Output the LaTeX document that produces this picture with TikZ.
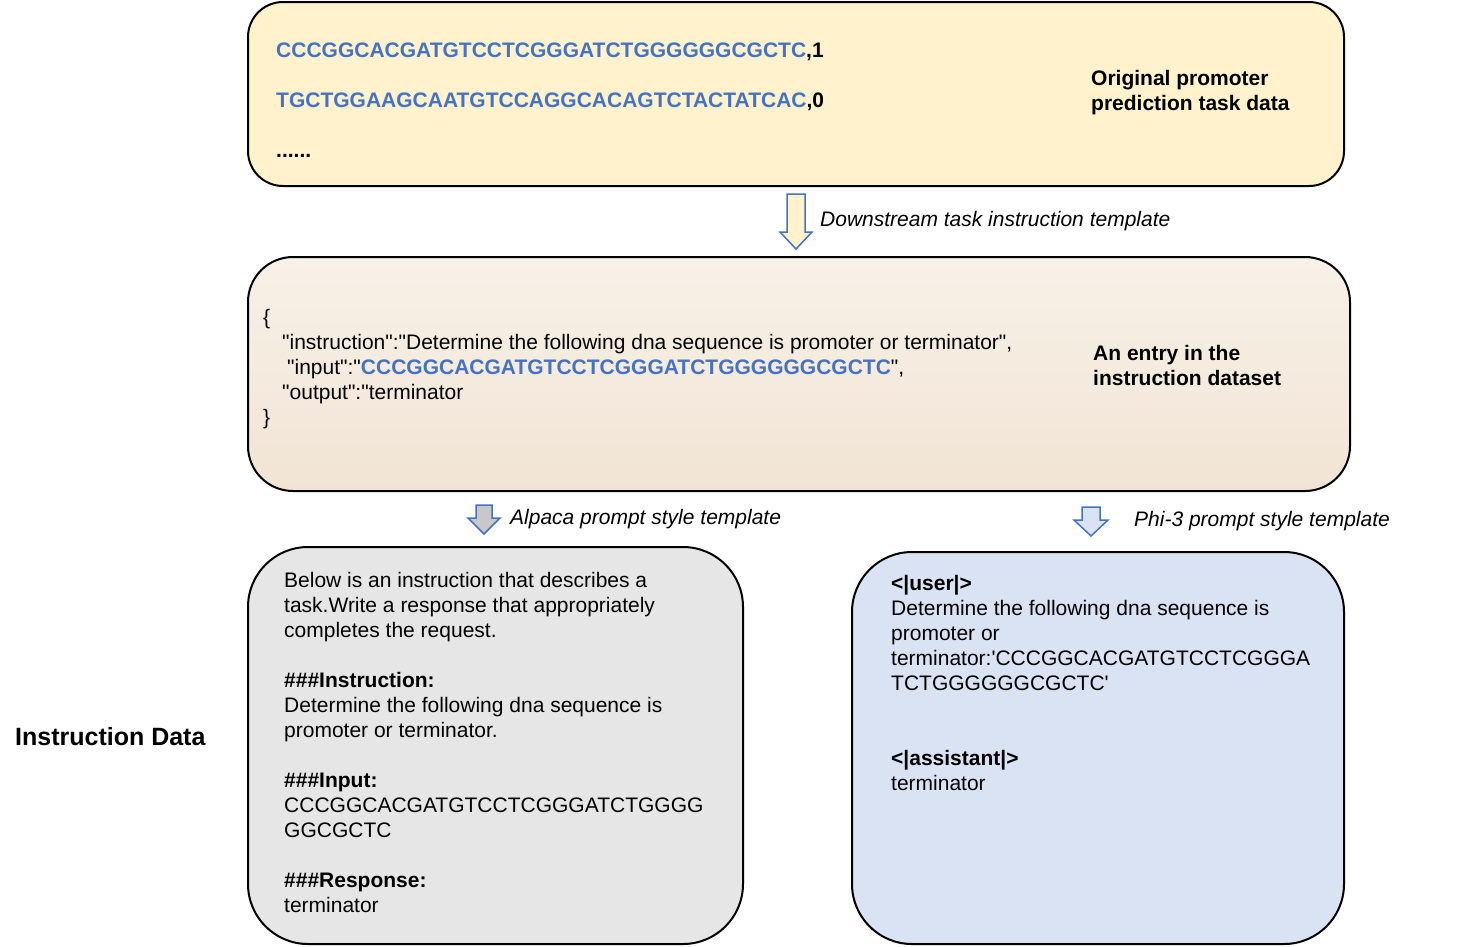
\documentclass[tikz,border=0pt]{standalone}
\usepackage{fontspec}
\setmainfont{Liberation Sans}[Ligatures=TeXOff]
\definecolor{seqblue}{HTML}{4472C4}
\definecolor{arrblue}{HTML}{4472C4}
\definecolor{yellowbox}{HTML}{FFF2CC}
\definecolor{beigetop}{HTML}{F8F1E8}
\definecolor{beigebot}{HTML}{F1E4D4}
\definecolor{graybox}{HTML}{E6E6E6}
\definecolor{bluebox}{HTML}{DAE3F3}
\definecolor{grayarrow}{HTML}{C8C8C8}
\begin{document}
\begin{tikzpicture}[x=1pt,y=-1pt,
  box/.style={draw=black, line width=2pt, inner sep=0pt},
  txt/.style={font=\fontsize{21}{25}\selectfont, inner sep=0pt, anchor=base west, align=left},
  lbl/.style={txt, font=\fontsize{21}{25}\selectfont\bfseries},
  itl/.style={txt, font=\fontsize{21}{25}\selectfont\itshape},
  seq/.style={txt, font=\fontsize{21}{25}\selectfont\bfseries},
  blockarrow/.style={draw=arrblue, line width=1.5pt, line join=miter}
]
\useasboundingbox (0,0) rectangle (1473,946);

% boxes
\node[box, fill=yellowbox, rounded corners=35pt, minimum width=1096pt, minimum height=184pt] (top) at (796,94) {};
\node[box, top color=beigetop, bottom color=beigebot, rounded corners=45pt, minimum width=1102pt, minimum height=234pt] (mid) at (799,374) {};
\node[box, fill=graybox, rounded corners=60pt, minimum width=495pt, minimum height=397pt] (alp) at (495.5,745.5) {};
\node[box, fill=bluebox, rounded corners=60pt, minimum width=492pt, minimum height=392pt] (phi) at (1098,748) {};

% top box text (multi-line nodes are anchored at the baseline of their last line)
\node[seq] (s1) at (276,57) {\textcolor{seqblue}{CCCGGCACGATGTCCTCGGGATCTGGGGGGCGCTC},1};
\node[seq] (s2) at (276,107) {\textcolor{seqblue}{TGCTGGAAGCAATGTCCAGGCACAGTCTACTATCAC},0};
\node[seq] (s3) at (276,157) {......};
\node[lbl] (toplbl) at (1091,110) {Original promoter\\prediction task data};

% middle box text
\node[txt] (json) at (263,424) {\{\\
\hspace*{19pt}"instruction":"Determine the following dna sequence is promoter or terminator",\\
\hspace*{24pt}"input":"\textcolor{seqblue}{\bfseries CCCGGCACGATGTCCTCGGGATCTGGGGGGCGCTC}",\\
\hspace*{19pt}"output":"terminator\\
\}};
\node[lbl] (midlbl) at (1093,385) {An entry in the\\instruction dataset};

% block arrows
\draw[blockarrow, fill=yellowbox] (787,194) -- (805,194) -- (805,232) -- (812,232) -- (796,249) -- (780,232) -- (787,232) -- cycle;
\node[itl] (a1lbl) at (820,226) {Downstream task instruction template};

\draw[blockarrow, fill=grayarrow] (476,505) -- (492,505) -- (492,518) -- (500,518) -- (484,534) -- (468,518) -- (476,518) -- cycle;
\node[itl] (a2lbl) at (510,524) {Alpaca prompt style template};

\draw[blockarrow, fill=bluebox] (1082,507) -- (1100,507) -- (1100,520) -- (1108,520) -- (1091,536) -- (1074,520) -- (1082,520) -- cycle;
\node[itl] (a3lbl) at (1134,526) {Phi-3 prompt style template};

% bottom-left text
\node[txt] (alptxt) at (284,912) {Below is an instruction that describes a\\
task.Write a response that appropriately\\
completes the request.\\[25pt]
\textbf{\#\#\#Instruction:}\\
Determine the following dna sequence is\\
promoter or terminator.\\[25pt]
\textbf{\#\#\#Input:}\\
CCCGGCACGATGTCCTCGGGATCTGGGG\\
GGCGCTC\\[25pt]
\textbf{\#\#\#Response:}\\
terminator};

% bottom-right text
\node[txt] (phitxt) at (891,790) {\textbf{<|user|>}\\
Determine the following dna sequence is\\
promoter or\\
terminator:'CCCGGCACGATGTCCTCGGGA\\
TCTGGGGGGCGCTC'\\[50pt]
\textbf{<|assistant|>}\\
terminator};

% side label
\node[txt, font=\fontsize{25}{30}\selectfont\bfseries] (side) at (15,745) {Instruction Data};
\end{tikzpicture}
\end{document}
